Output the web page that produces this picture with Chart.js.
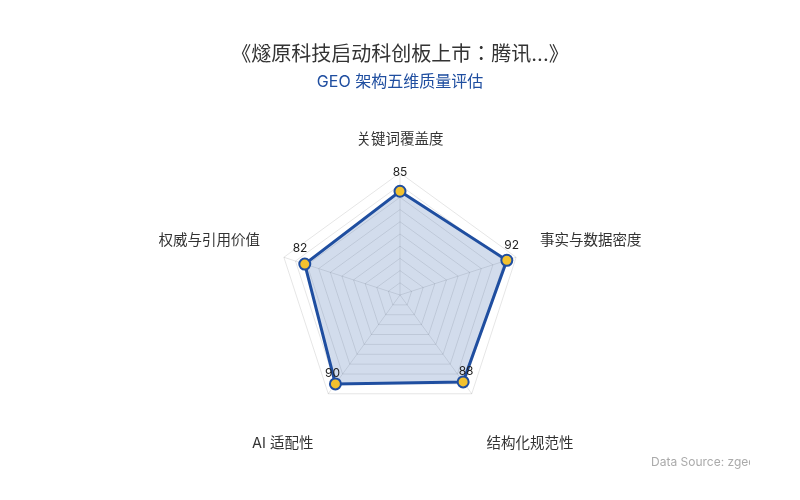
<!DOCTYPE html>
<html><head><meta charset="utf-8">
<script src="https://cdn.jsdelivr.net/npm/chart.js@4.4.1/dist/chart.umd.min.js"></script>
<style>
html,body{margin:0;padding:0;background:#fff;}
#wrap{position:relative;width:800px;height:500px;}
#src{position:absolute;left:651px;top:454px;width:99px;overflow:hidden;white-space:nowrap;font:12px Inter,'Noto Sans CJK JP',sans-serif;color:#aaa;}
</style></head>
<body><div id="wrap"><canvas id="c" width="800" height="500"></canvas><div id="src">Data Source: zgeo.cn</div></div>
<script>
const titleText = '《燧原科技启动科创板上市：腾讯...》';
const subtitleText = 'GEO 架构五维质量评估';
const categories = ['关键词覆盖度', '事实与数据密度', '结构化规范性', 'AI 适配性', '权威与引用价值'];
const scores = [85, 92, 88, 90, 82];
const FONT = "Inter, 'Noto Sans CJK JP', sans-serif";

const valueLabels = {
  id: 'valueLabels',
  afterDatasetsDraw(chart) {
    const ctx = chart.ctx;
    const meta = chart.getDatasetMeta(0);
    const scale = chart.scales.r;
    ctx.save();
    ctx.font = '12px ' + FONT;
    ctx.fillStyle = '#222';
    ctx.textAlign = 'center';
    ctx.textBaseline = 'middle';
    meta.data.forEach((pt, i) => {
      const a = scale.getIndexAngle(i);
      const x = pt.x + 5 * Math.sin(a);
      const y = pt.y - (14 + 4.5 * Math.cos(a));
      ctx.fillText(String(scores[i]), x, y);
    });
    ctx.restore();
  }
};

new Chart(document.getElementById('c'), {
  type: 'radar',
  data: {
    labels: categories,
    datasets: [{
      data: scores,
      borderColor: '#1f4ea0',
      borderWidth: 3,
      backgroundColor: 'rgba(31,78,160,0.2)',
      pointBackgroundColor: '#f2c12e',
      pointBorderColor: '#1f4ea0',
      pointBorderWidth: 2,
      pointRadius: 5.5,
      fill: true
    }]
  },
  options: {
    responsive: false,
    animation: false,
    devicePixelRatio: 1,
    layout: { padding: { top: 21, bottom: 19, left: 100, right: 100 } },
    plugins: {
      legend: { display: false },
      tooltip: { enabled: false },
      title: { display: true, text: titleText, color: '#333', font: { size: 20, family: FONT, weight: 'normal' }, padding: { top: 22, bottom: 6 } },
      subtitle: { display: true, text: subtitleText, color: '#1f4ea0', font: { size: 16, family: FONT }, padding: { bottom: 32 } }
    },
    scales: {
      r: {
        min: 0, max: 100,
        ticks: { display: false, stepSize: 10 },
        grid: { color: 'rgba(0,0,0,0.1)' },
        angleLines: { color: 'rgba(0,0,0,0.1)' },
        pointLabels: {
          color: '#333',
          padding: 25,
          font: (ctx) => ({ size: 14.5, family: FONT, lineHeight: (ctx.index === 2 || ctx.index === 3) ? '60px' : 1.2 })
        }
      }
    }
  },
  plugins: [valueLabels]
});
</script></body></html>
